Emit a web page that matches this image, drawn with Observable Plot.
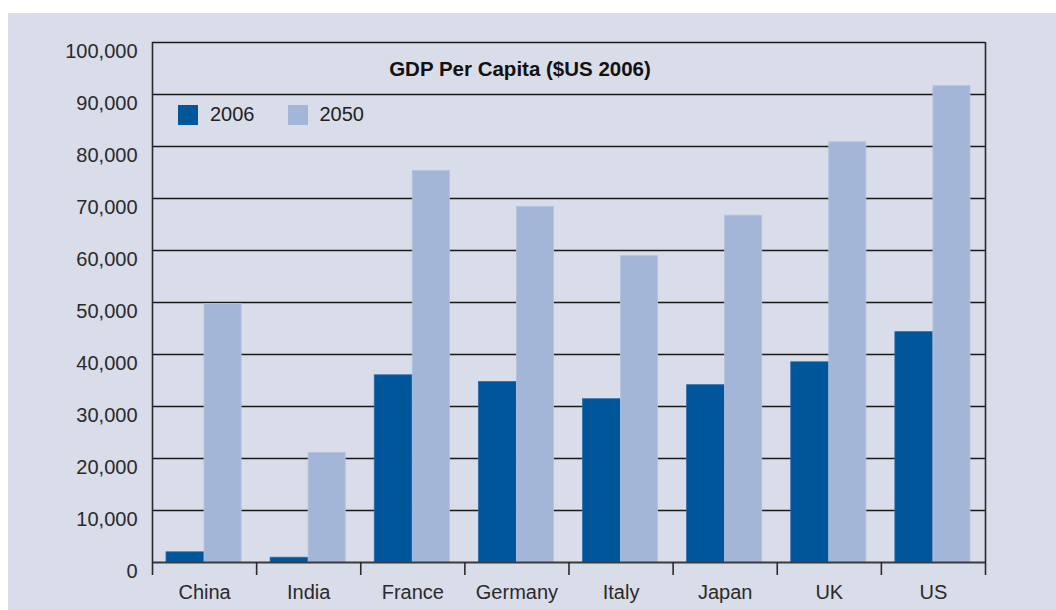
<!DOCTYPE html>
<html>
<head>
<meta charset="utf-8">
<script src="https://cdn.jsdelivr.net/npm/d3@7"></script>
<script src="https://cdn.jsdelivr.net/npm/@observablehq/plot@0.6"></script>
<style>
  html, body { margin: 0; padding: 0; background: #ffffff; }
  #wrap { position: relative; margin-left: 8px; margin-top: 13px; width: 1048px; height: 597px; background: #d9dce9; overflow: hidden; font-family: "Liberation Sans", Arial, sans-serif; }
  #title { position: absolute; left: 0; width: 1024px; top: 44px; text-align: center; font-weight: bold; font-size: 20.5px; color: #111; }
  #legend { position: absolute; left: 170px; top: 90px; display: flex; align-items: center; font-size: 20px; color: #222; }
  #legend .sw { width: 20px; height: 20px; display: inline-block; margin-right: 12px; }
  #legend .item { display: flex; align-items: center; margin-right: 33px; }
  svg { display: block; }
</style>
</head>
<body>
<div id="wrap">
  <div id="chart"></div>
  <div id="title"></div>
  <div id="legend"></div>
</div>
<script>
const countries = ["China", "India", "France", "Germany", "Italy", "Japan", "UK", "US"];
const gdp2006 = [1960, 920, 36000, 34700, 31400, 34100, 38500, 44300];
const gdp2050 = [49700, 21050, 75300, 68400, 58900, 66700, 80800, 91600];
const years = ["2006", "2050"];
const yearColors = ["#00569a", "#a4b6d8"];
const yTicks = [0, 10000, 20000, 30000, 40000, 50000, 60000, 70000, 80000, 90000, 100000];
const titleText = "GDP Per Capita ($US 2006)";

const rows = countries.map((c, i) => ({country: c, idx: i, v2006: gdp2006[i], v2050: gdp2050[i]}));
const boundaries = d3.range(countries.length + 1);
const centers = countries.map((c, i) => i + 0.5);

const chart = Plot.plot({
  width: 1048,
  height: 597,
  marginLeft: 144,
  marginRight: 71,
  marginTop: 29,
  marginBottom: 48,
  style: {background: "transparent", fontFamily: "'Liberation Sans', Arial, sans-serif"},
  x: {type: "linear", domain: [0, countries.length], label: null},
  y: {domain: [0, 100000], label: null},
  marks: [
    Plot.ruleY(yTicks.filter(d => d > 0), {stroke: "#1a1a1a", strokeWidth: 1.6}),
    Plot.rectY(rows, {x1: "idx", x2: d => d.idx + 1, y: "v2006", fill: yearColors[0], stroke: "#2a6aa8", strokeWidth: 0.8, insetLeft: 14, insetRight: 52}),
    Plot.rectY(rows, {x1: "idx", x2: d => d.idx + 1, y: "v2050", fill: yearColors[1], stroke: "#b3c2e0", strokeWidth: 0.8, insetLeft: 52, insetRight: 15}),
    Plot.ruleY([0], {stroke: "#3a3a3a", strokeWidth: 1.8}),
    Plot.ruleX([0, countries.length], {y1: 0, y2: 100000, stroke: "#2a2a2a", strokeWidth: 1.6}),
    Plot.axisX({ticks: boundaries, tickSize: 13, tickFormat: () => "", label: null, stroke: "#2a2a2a", strokeWidth: 1.6}),
    Plot.axisX({ticks: centers, tickSize: 0, tickPadding: 22, label: null, tickFormat: d => countries[Math.floor(d)], fontSize: 20, fill: "#2a2a2a"}),
    Plot.axisY({ticks: yTicks, tickSize: 0, tickPadding: 15, dy: 9, label: null, tickFormat: d3.format(","), fontSize: 20, fill: "#2a2a2a"})
  ]
});
document.getElementById("chart").appendChild(chart);
document.getElementById("title").textContent = titleText;
const legend = document.getElementById("legend");
years.forEach((y, i) => {
  const item = document.createElement("div");
  item.className = "item";
  const sw = document.createElement("span");
  sw.className = "sw";
  sw.style.background = yearColors[i];
  const t = document.createElement("span");
  t.textContent = y;
  item.appendChild(sw);
  item.appendChild(t);
  legend.appendChild(item);
});
</script>
</body>
</html>
